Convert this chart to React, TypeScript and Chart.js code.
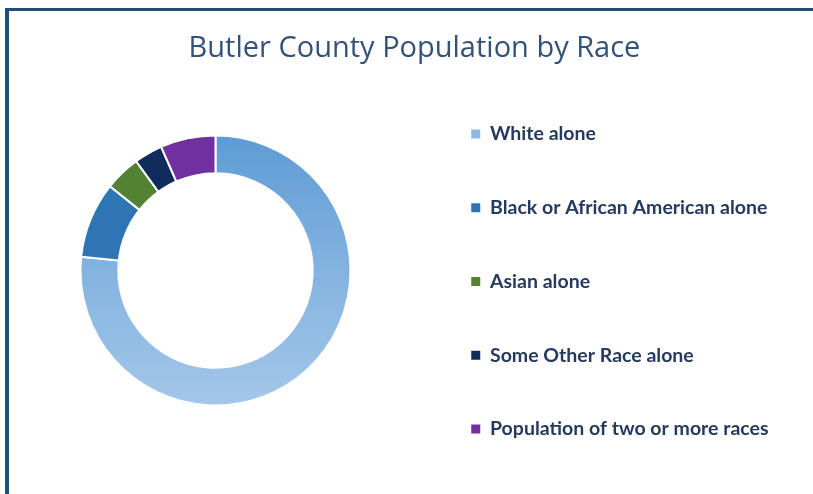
import React, { useEffect, useRef } from "react";
import { Chart, registerables } from "chart.js";

Chart.register(...registerables);

const categories = [
  "White alone",
  "Black or African American alone",
  "Asian alone",
  "Some Other Race alone",
  "Population of two or more races",
];
const shares = [76.7, 9.1, 4.3, 3.4, 6.6];
const colors = ["#8fb9e1", "#2e75b6", "#548235", "#102b5c", "#7030a0"];
const chartTitle = "Butler County Population by Race";

const LEGEND_W = 398;
const RING_R = 135;

const legendWidthPlugin = {
  id: "legendWidth",
  beforeInit(chart: any) {
    const leg = chart.legend;
    if (!leg) return;
    const orig = leg.fit;
    leg.fit = function () {
      orig.call(this);
      this.width = LEGEND_W;
    };
  },
};

export default function App() {
  const ref = useRef<HTMLCanvasElement | null>(null);

  useEffect(() => {
    if (!ref.current) return;
    const chart = new Chart(ref.current, {
      type: "doughnut",
      data: {
        labels: categories,
        datasets: [
          {
            data: shares,
            backgroundColor: (ctx: any) => {
              const c = ctx.chart;
              const area = c.chartArea;
              if (ctx.dataIndex === 0 && area) {
                const cy = (area.top + area.bottom) / 2;
                const g = c.ctx.createLinearGradient(0, cy - RING_R, 0, cy + RING_R);
                g.addColorStop(0, "#5e9bd4");
                g.addColorStop(0.5, "#84b3e0");
                g.addColorStop(1, "#a3c7e9");
                return g;
              }
              return colors[ctx.dataIndex];
            },
            borderColor: "#ffffff",
            borderWidth: 2,
            radius: RING_R,
            cutout: "72%",
          } as any,
        ],
      },
      options: {
        animation: false,
        responsive: false,
        maintainAspectRatio: false,
        layout: { padding: { left: 12, right: 0, top: 0, bottom: 0 } },
        plugins: {
          title: {
            display: true,
            text: chartTitle,
            color: "#33527a",
            font: { family: "Open Sans", size: 29, weight: "normal", lineHeight: 1.2 },
            padding: { top: 31.6, bottom: -19.4 },
          },
          legend: {
            display: true,
            position: "right",
            align: "start",
            fullSize: true,
            title: {
              display: true,
              text: " ",
              font: { size: 10, lineHeight: 1 },
              padding: { top: 60, bottom: 0 },
            },
            labels: {
              color: "#243a5e",
              font: { family: "Lato", size: 19.5, weight: "bold" },
              boxWidth: 9,
              boxHeight: 9,
              padding: 54.25,
              generateLabels: () =>
                categories.map((lab, i) => ({
                  text: lab,
                  fillStyle: colors[i],
                  strokeStyle: colors[i],
                  lineWidth: 0,
                  hidden: false,
                  index: i,
                  fontColor: "#243a5e",
                })),
            },
          },
          tooltip: { enabled: false },
        },
      },
      plugins: [legendWidthPlugin],
    });
    return () => chart.destroy();
  }, []);

  return (
    <div
      style={{
        position: "fixed",
        left: 0,
        top: 0,
        width: 813,
        height: 494,
        overflow: "hidden",
        background: "#ffffff",
      }}
    >
      <div
        style={{
          position: "absolute",
          left: 5,
          top: 8,
          width: 820,
          height: 500,
          boxSizing: "border-box",
          borderLeft: "4px solid #1f4e79",
          borderTop: "3px solid #1f4e79",
        }}
      />
      <canvas
        ref={ref}
        width={813}
        height={494}
        style={{ position: "absolute", left: 2, top: 0, display: "block" }}
      />
    </div>
  );
}
